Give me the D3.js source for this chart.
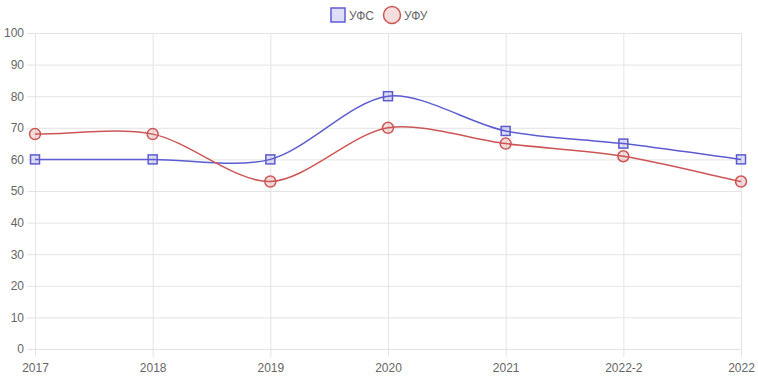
<!DOCTYPE html>
<html>
<head>
<meta charset="utf-8">
<script src="https://cdn.jsdelivr.net/npm/d3@7"></script>
<style>
  body { margin: 0; background: #fff; }
  text { font-family: "Liberation Sans", Arial, sans-serif; }
</style>
</head>
<body>
<script>
const width = 758;
const height = 379;

const years = ["2017", "2018", "2019", "2020", "2021", "2022-2", "2022"];
const ufsValues = [60, 60, 60, 80, 69, 65, 60];
const ufuValues = [68, 68, 53, 70, 65, 61, 53];
const yTicks = [0, 10, 20, 30, 40, 50, 60, 70, 80, 90, 100];

const seriesList = [
    {name: "УФС", values: ufsValues, color: "#5c5cd1", fill: "rgba(92,92,209,0.2)", shape: "square"},
    {name: "УФУ", values: ufuValues, color: "#cc5656", fill: "rgba(204,86,86,0.2)", shape: "circle"}
];

const margin = {left: 35, right: 17, top: 33, bottom: 30};

let svg = d3.select("body")
    .append("svg")
    .attr("width", width)
    .attr("height", height);

let x = d3.scalePoint()
    .domain(years)
    .range([margin.left, width - margin.right]);

let y = d3.scaleLinear()
    .domain([0, 100])
    .range([height - margin.bottom, margin.top]);

// grid + y axis
let yAxis = svg.append("g")
    .attr("transform", "translate(" + margin.left + ",0)")
    .call(d3.axisLeft(y).tickValues(yTicks).tickSize(8).tickPadding(3));
yAxis.select(".domain").remove();
yAxis.selectAll("line").attr("stroke", "#e4e4e4");
yAxis.selectAll(".tick").append("line")
    .attr("x1", 0)
    .attr("x2", width - margin.right - margin.left)
    .attr("stroke", "#e4e4e4");
yAxis.selectAll("text")
    .attr("fill", "#666")
    .style("font-size", "12px");

let xAxis = svg.append("g")
    .attr("transform", "translate(0," + (height - margin.bottom) + ")")
    .call(d3.axisBottom(x).tickSize(8).tickPadding(6));
xAxis.select(".domain").remove();
xAxis.selectAll("line").attr("stroke", "#e4e4e4");
xAxis.selectAll(".tick").append("line")
    .attr("y1", 0)
    .attr("y2", -(height - margin.bottom - margin.top))
    .attr("stroke", "#e4e4e4");
xAxis.selectAll("text")
    .attr("fill", "#666")
    .style("font-size", "12px");

// Chart.js style spline
function splinePath(pts, t) {
    let cps = pts.map(function(p, i) {
        let prev = pts[Math.max(i - 1, 0)];
        let next = pts[Math.min(i + 1, pts.length - 1)];
        let d01 = Math.hypot(p[0] - prev[0], p[1] - prev[1]);
        let d12 = Math.hypot(next[0] - p[0], next[1] - p[1]);
        let s01 = d01 / (d01 + d12) || 0;
        let s12 = d12 / (d01 + d12) || 0;
        let fa = t * s01, fb = t * s12;
        return {
            prev: [p[0] - fa * (next[0] - prev[0]), p[1] - fa * (next[1] - prev[1])],
            next: [p[0] + fb * (next[0] - prev[0]), p[1] + fb * (next[1] - prev[1])]
        };
    });
    let path = d3.path();
    path.moveTo(pts[0][0], pts[0][1]);
    for (let i = 1; i < pts.length; i++) {
        path.bezierCurveTo(cps[i - 1].next[0], cps[i - 1].next[1],
            cps[i].prev[0], cps[i].prev[1], pts[i][0], pts[i][1]);
    }
    return path.toString();
}

seriesList.forEach(function(s) {
    let pts = s.values.map((v, i) => [x(years[i]), y(v)]);
    svg.append("path")
        .attr("d", splinePath(pts, 0.3))
        .attr("fill", "none")
        .attr("stroke", s.color)
        .attr("stroke-width", 1.5);

    if (s.shape === "square") {
        svg.selectAll(".pt-sq")
            .data(pts)
            .enter()
            .append("rect")
            .attr("x", d => d[0] - 4.5)
            .attr("y", d => d[1] - 4.5)
            .attr("width", 9)
            .attr("height", 9)
            .attr("fill", s.fill)
            .attr("stroke", s.color)
            .attr("stroke-width", 1.5);
    } else {
        svg.selectAll(".pt-c")
            .data(pts)
            .enter()
            .append("circle")
            .attr("cx", d => d[0])
            .attr("cy", d => d[1])
            .attr("r", 5.5)
            .attr("fill", s.fill)
            .attr("stroke", s.color)
            .attr("stroke-width", 1.5);
    }
});

// legend
let legend = svg.append("g");
legend.append("rect")
    .attr("x", 331).attr("y", 8)
    .attr("width", 14).attr("height", 14)
    .attr("fill", seriesList[0].fill)
    .attr("stroke", seriesList[0].color)
    .attr("stroke-width", 1.5);
legend.append("text")
    .attr("x", 349).attr("y", 19.5)
    .attr("fill", "#666")
    .style("font-size", "12px")
    .text(seriesList[0].name);
legend.append("circle")
    .attr("cx", 392).attr("cy", 15)
    .attr("r", 8.5)
    .attr("fill", seriesList[1].fill)
    .attr("stroke", seriesList[1].color)
    .attr("stroke-width", 1.5);
legend.append("text")
    .attr("x", 404).attr("y", 19.5)
    .attr("fill", "#666")
    .style("font-size", "12px")
    .text(seriesList[1].name);
</script>
</body>
</html>
